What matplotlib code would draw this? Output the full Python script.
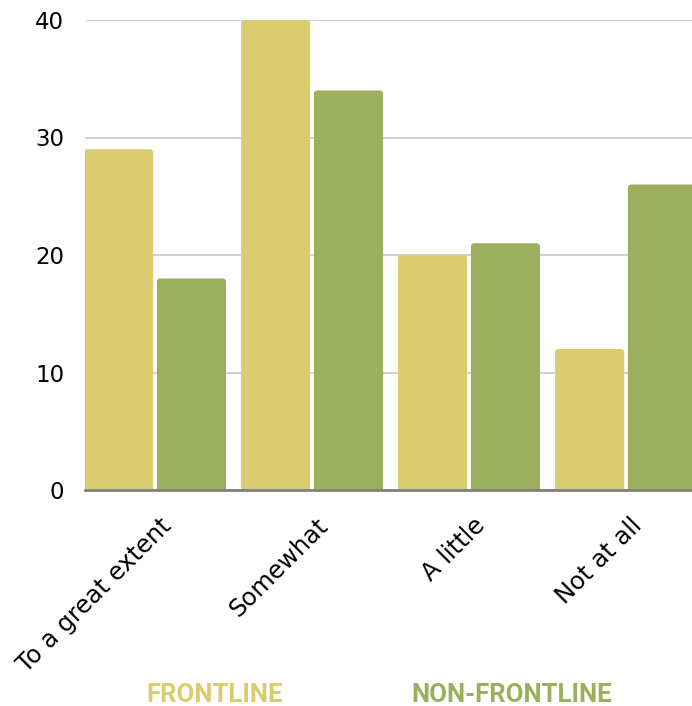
import matplotlib.pyplot as plt
from matplotlib.patches import FancyBboxPatch
import numpy as np

categories = ["To a great extent", "Somewhat", "A little", "Not at all"]
frontline = [29, 40, 20, 12]
non_frontline = [18, 34, 21, 26]
series_names = ["FRONTLINE", "NON-FRONTLINE"]
yticks = [0, 10, 20, 30, 40]

yellow = "#DCCC70"
green = "#9BAF5F"

fig = plt.figure(figsize=(6.92, 7.06), dpi=100)
ax = fig.add_axes([85 / 692, 216 / 706, 607 / 692, 470 / 706])

x = np.arange(len(categories))
w = 0.44
b1 = ax.bar(x - 0.232, frontline, width=w, color=yellow, zorder=3)
b2 = ax.bar(x + 0.232, non_frontline, width=w, color=green, zorder=3)

# swap plain rectangles for slightly rounded ones
for bars in (b1, b2):
    for r in bars:
        p = FancyBboxPatch((r.get_x(), -1), r.get_width(), r.get_height() + 1,
                           boxstyle="round,pad=0,rounding_size=0.02",
                           mutation_aspect=13, facecolor=r.get_facecolor(),
                           edgecolor="none", zorder=3)
        ax.add_patch(p)
        r.set_visible(False)

ax.set_xlim(-0.446, 3.42)
ax.set_ylim(0, 40)
ax.set_yticks(yticks)
ax.yaxis.grid(True, color="#C8C8C8", linewidth=1.2, zorder=0)
ax.set_axisbelow(True)

for s in ["top", "right", "left"]:
    ax.spines[s].set_visible(False)
ax.spines["bottom"].set_color("#808080")
ax.spines["bottom"].set_linewidth(2)
ax.spines["bottom"].set_zorder(4)
ax.tick_params(axis="both", length=0)
ax.tick_params(axis="y", pad=15)
ax.set_yticklabels([str(v) for v in yticks], fontsize=16.5)

ax.set_xticks(x + 0.025)
ax.set_xticklabels(categories, rotation=45, ha="right", rotation_mode="anchor",
                   fontsize=17.5)
ax.tick_params(axis="x", pad=17)

fig.text(215 / 692, 1 - 695 / 706, series_names[0], color=yellow, fontsize=18.5,
         fontweight="bold", family="Roboto", ha="center", va="center")
fig.text(512 / 692, 1 - 695 / 706, series_names[1], color=green, fontsize=18.5,
         fontweight="bold", family="Roboto", ha="center", va="center")

fig.savefig("out.png", dpi=100)
